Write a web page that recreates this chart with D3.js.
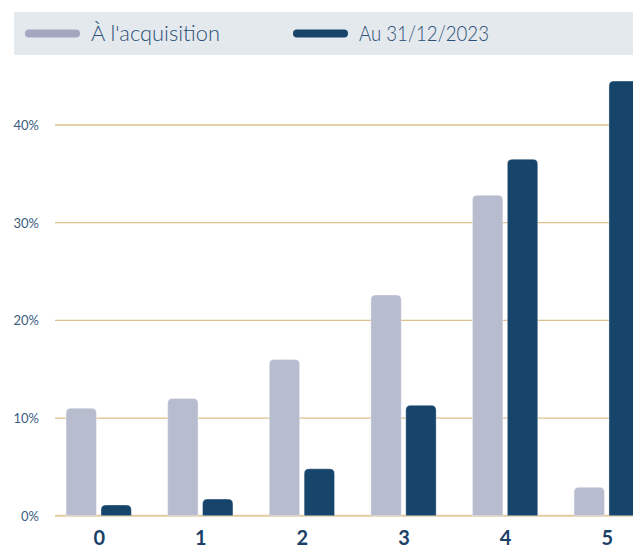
<!DOCTYPE html>
<html><head><meta charset="utf-8">
<script src="https://cdn.jsdelivr.net/npm/d3@7"></script>
<style>
html,body{margin:0;padding:0;background:#fff;}
svg{display:block;}
</style></head>
<body>
<svg id="chart" width="633" height="549"></svg>
<script>
const categories = ["0","1","2","3","4","5"];
const seriesNames = ["À l'acquisition","Au 31/12/2023"];
const acquisition = [11.0, 12.0, 16.0, 22.6, 32.8, 2.9];
const au2023 = [1.1, 1.7, 4.8, 11.3, 36.5, 44.5];
const yTicks = [0, 10, 20, 30, 40];
const colors = ["#b8bccf", "#17446b"];
const legendColors = ["#a3a7bf", "#17446b"];

const svg = d3.select("#chart");
const W = 633, H = 549;

// legend
svg.append("rect").attr("x",14).attr("y",12).attr("width",W-14).attr("height",43).attr("fill","#e4e9ee");
const legX = [25, 293];
const legW = [129, 130];
seriesNames.forEach((n,i)=>{
  svg.append("line").attr("x1",legX[i]+4).attr("x2",legX[i]+51).attr("y1",33.5).attr("y2",33.5)
    .attr("stroke",legendColors[i]).attr("stroke-width",8).attr("stroke-linecap","round");
  svg.append("text").attr("x",legX[i]+66).attr("y",41).text(n)
    .attr("font-family","Lato, 'Open Sans', sans-serif").attr("font-weight",300)
    .attr("font-size",21).attr("fill","#2b4f76")
    .attr("textLength",legW[i]).attr("lengthAdjust","spacingAndGlyphs");
});

// scales
const y = d3.scaleLinear().domain([0,40]).range([515.7,125]);
const x = d3.scalePoint().domain(categories).range([98.7, 606.7]);
const bw = 30.4, gap = 4.5;

// grid
const grid = svg.append("g");
yTicks.forEach(t=>{
  grid.append("line").attr("x1",55).attr("x2",W).attr("y1",y(t)).attr("y2",y(t))
    .attr("stroke", t===0 ? "#e2cc9f" : "#dcc18e").attr("stroke-width", t===0?2:1.3);
});
const yAxis = d3.axisLeft(y).tickValues(yTicks).tickFormat(d=>d+"%").tickSize(0).tickPadding(0);
const ga = svg.append("g").attr("transform","translate(39,0)").call(yAxis);
ga.select(".domain").remove();
ga.selectAll("text").attr("font-family","Lato, 'Open Sans', sans-serif").attr("font-size",13)
  .attr("font-weight",400).attr("fill","#3a5c80").attr("dy","0.35em");

// bars
function topRounded(x0,y0,w,h,r){
  r = Math.min(r,h,w/2);
  return `M${x0},${y0+h}V${y0+r}Q${x0},${y0} ${x0+r},${y0}H${x0+w-r}Q${x0+w},${y0} ${x0+w},${y0+r}V${y0+h}Z`;
}
const series = [acquisition, au2023];
series.forEach((vals,si)=>{
  svg.append("g").selectAll("path").data(vals).join("path")
    .attr("d",(d,i)=>{
      const cx = x(categories[i]);
      const x0 = si===0 ? cx - gap/2 - bw : cx + gap/2;
      return topRounded(x0, y(d), bw, y(0)-y(d), 5);
    })
    .attr("fill",colors[si])
    .attr("stroke","rgba(255,255,255,0.45)").attr("stroke-width",0.8);
});

// x labels
const xAxis = d3.axisBottom(x).tickSize(0).tickPadding(0);
const gx = svg.append("g").attr("transform","translate(0,545)").call(xAxis);
gx.select(".domain").remove();
gx.selectAll("text").attr("dy",0).attr("font-family","Lato, 'Open Sans', sans-serif")
  .attr("font-size",20).attr("font-weight",700).attr("fill","#1b4168");
</script>
</body></html>
